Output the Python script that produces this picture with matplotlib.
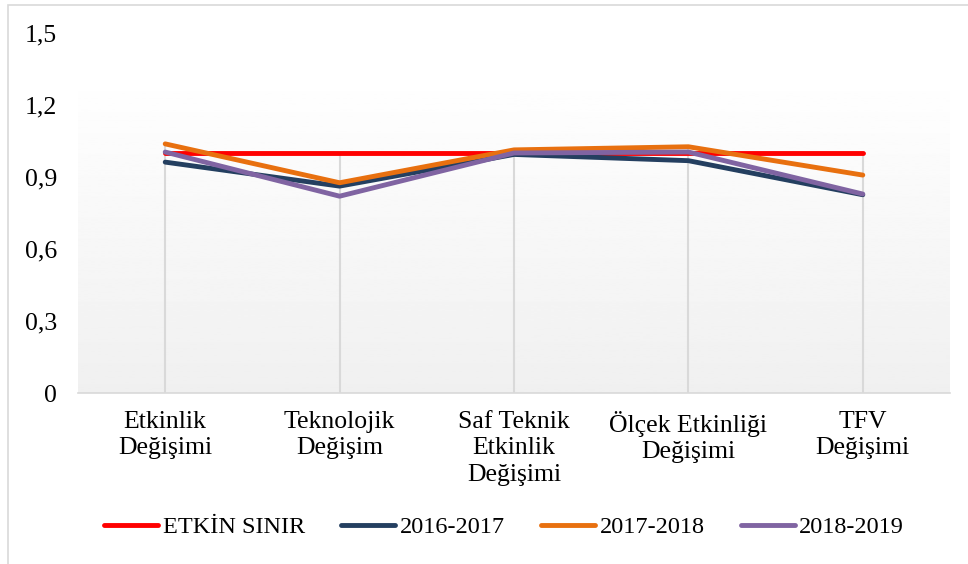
import numpy as np
import matplotlib.pyplot as plt
from matplotlib.patches import Rectangle

plt.rcParams['font.family'] = ['Liberation Serif', 'DejaVu Serif']

# donnees
categories = ["Etkinlik\nDeğişimi", "Teknolojik\nDeğişim", "Saf Teknik\nEtkinlik\nDeğişimi",
              "Ölçek Etkinliği\nDeğişimi", "TFV\nDeğişimi"]
etkin_sinir = [1.0, 1.0, 1.0, 1.0, 1.0]
y2016_2017 = [0.962, 0.862, 0.994, 0.968, 0.826]
y2017_2018 = [1.038, 0.876, 1.013, 1.026, 0.908]
y2018_2019 = [1.004, 0.820, 1.000, 1.004, 0.829]
yticks = [0, 0.3, 0.6, 0.9, 1.2, 1.5]
ytick_labels = ["0", "0,3", "0,6", "0,9", "1,2", "1,5"]

series = [
    ("ETKİN SINIR", etkin_sinir, "#ff0000"),
    ("2016-2017", y2016_2017, "#243f60"),
    ("2017-2018", y2017_2018, "#e8700f"),
    ("2018-2019", y2018_2019, "#8064a2"),
]

fig = plt.figure(figsize=(9.68, 5.64), dpi=100)
ax = fig.add_axes([78/968, 1 - 393/564, (950-78)/968, (393-33)/564])

x = np.arange(len(categories))
ax.set_xlim(-0.5, len(categories) - 0.5)
ax.set_ylim(0, 1.5)

# fond en degrade (blanc en haut, gris clair en bas)
grad = np.linspace(0.94, 0.998, 256).reshape(-1, 1)
ax.imshow(grad, cmap='gray', vmin=0, vmax=1, aspect='auto', origin='lower',
          extent=(-0.5, len(categories) - 0.5, 0, 1.3), zorder=0)

# lignes verticales de chute
top = np.max([s[1] for s in series], axis=0)
ax.vlines(x, 0, top, color="#d9d9d9", lw=1.5, zorder=1)

for name, vals, col in series:
    ax.plot(x, vals, color=col, lw=3.5, label=name, solid_capstyle='round',
            solid_joinstyle='round', zorder=3)

ax.set_xticks(x)
ax.set_xticklabels(categories, fontsize=18.5, linespacing=1.25)
ax.set_yticks(yticks)
ax.set_yticklabels(ytick_labels, fontsize=18.5)
ax.tick_params(length=0)
ax.tick_params(axis='x', pad=13)
ax.tick_params(axis='y', pad=15)
for s in ["top", "right", "left"]:
    ax.spines[s].set_visible(False)
ax.spines["bottom"].set_color("#d9d9d9")
ax.spines["bottom"].set_linewidth(1.2)

fig.legend(loc="center", bbox_to_anchor=(0.521, 1 - 527/564), ncol=4, frameon=False,
           fontsize=17.5, handlelength=2.2, handletextpad=0.2, columnspacing=1.5)

# bordure du graphique
fig.patches.append(Rectangle((8/968, -0.1), 1.2, 1 - 5/564 + 0.1, transform=fig.transFigure,
                             fill=False, edgecolor="#d9d9d9", lw=1.2))

fig.savefig("out.png", dpi=100)
